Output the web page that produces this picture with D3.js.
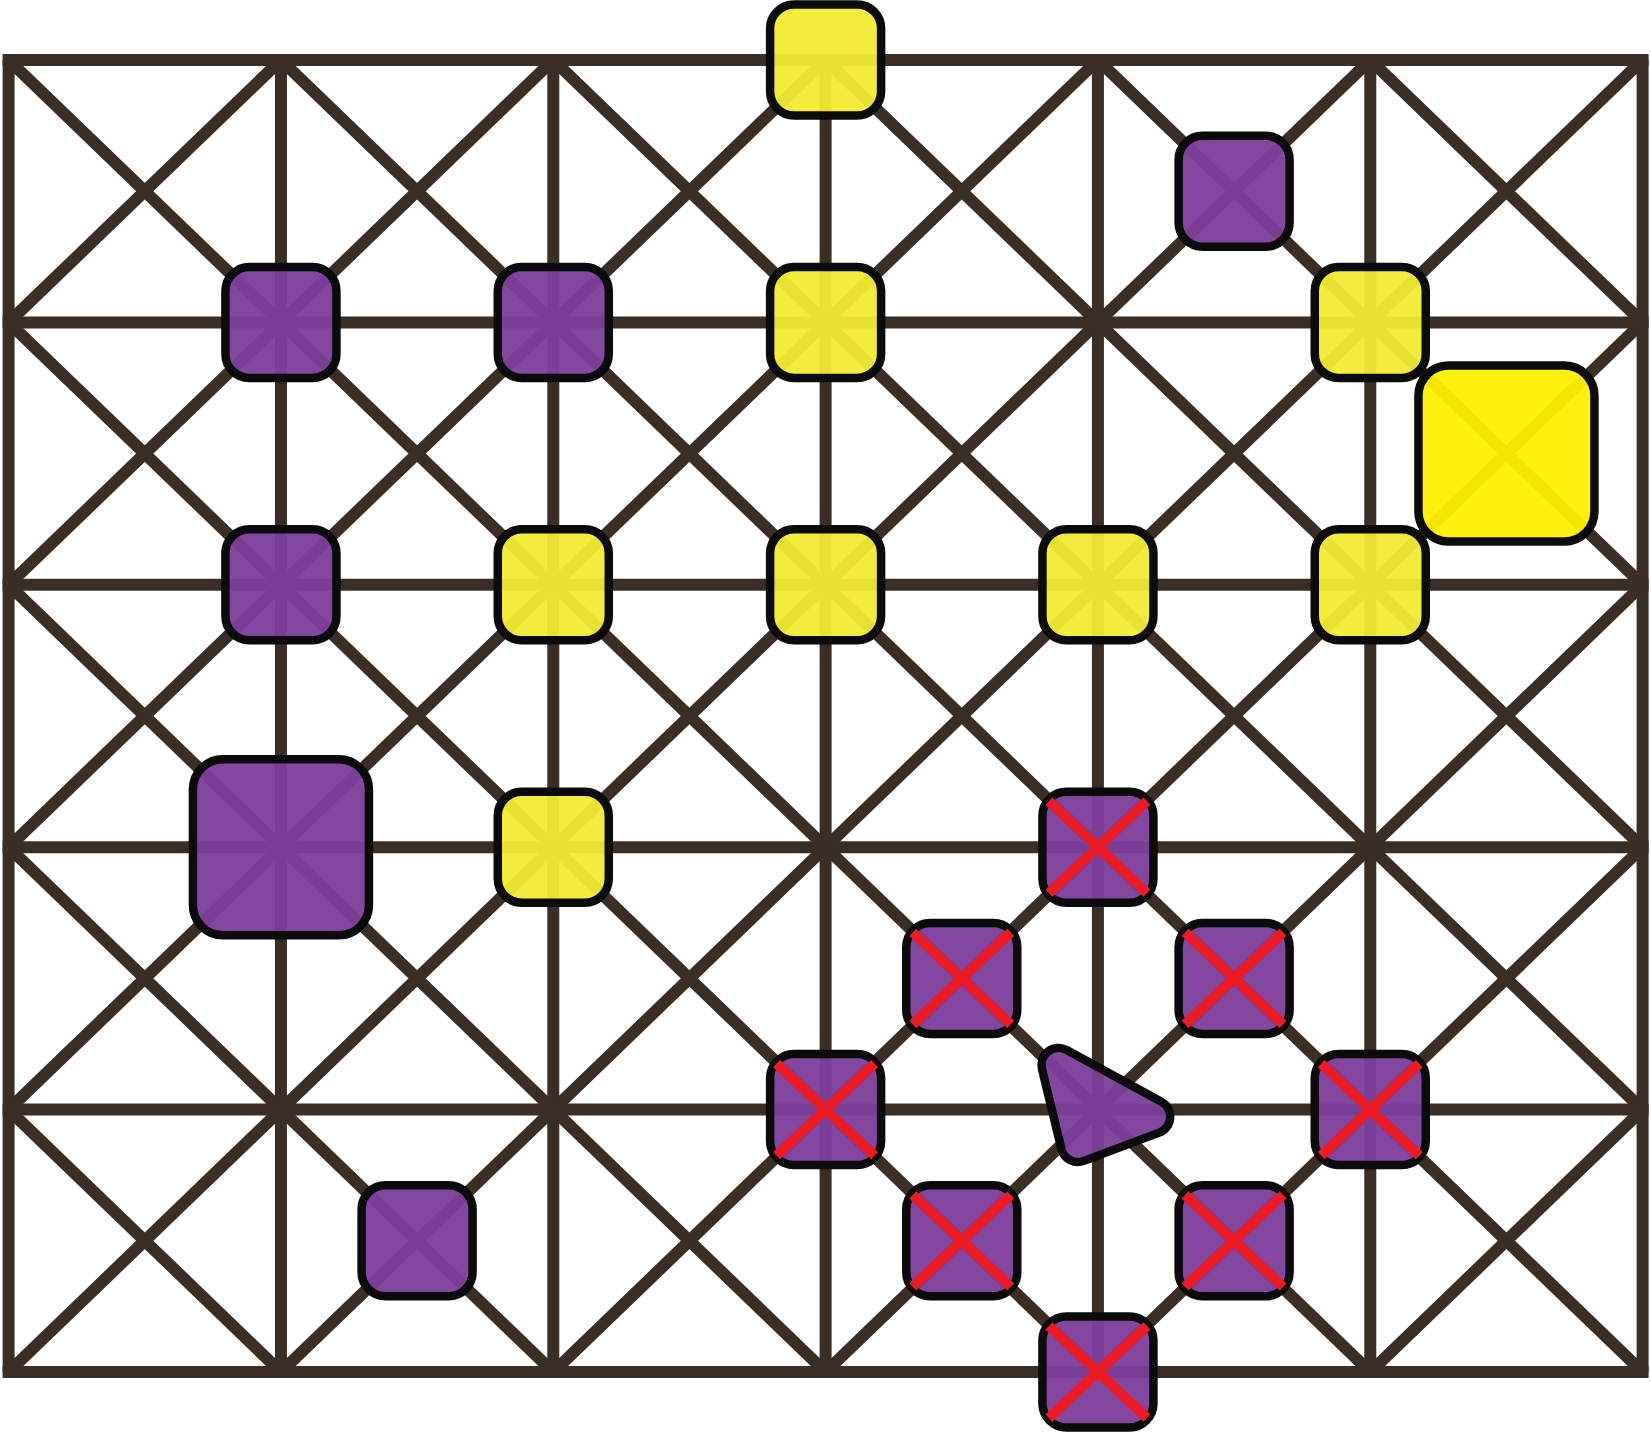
<!DOCTYPE html>
<html>
<head>
<meta charset="utf-8">
<title>Board</title>
<script src="https://cdn.jsdelivr.net/npm/d3@7"></script>
<style>
  body { margin: 0; background: #ffffff; }
  svg { display: block; }
</style>
</head>
<body>
<div id="board"></div>
<script>
// Board grid: column and row ticks (grid points)
var cols = [0, 1, 2, 3, 4, 5, 6];
var rows = [0, 1, 2, 3, 4, 5];

// Pieces as [column, row] positions on the board (halves = cell centres)
var yellowSmall = [[3, 0], [3, 1], [5, 1], [2, 2], [3, 2], [4, 2], [5, 2], [2, 3]];
var yellowLarge = [[5.5, 1.5]];
var purpleSmall = [[4.5, 0.5], [1, 1], [2, 1], [1, 2], [1.5, 4.5]];
var purpleLarge = [[1, 3]];
var purpleCrossed = [[4, 3], [3.5, 3.5], [4.5, 3.5], [3, 4], [5, 4], [3.5, 4.5], [4.5, 4.5], [4, 5]];
var purpleTriangle = [[4, 4]];

var width = 1651, height = 1434;
var lineColor = "#3a2e26";
var lineWidth = 12;

var svg = d3.select("#board").append("svg")
  .attr("width", width)
  .attr("height", height);

// scales from board coordinates to pixels
var x = d3.scaleLinear().domain([0, 6]).range([8.6, 1642.6]);
var y = d3.scaleLinear().domain([0, 5]).range([60, 1372]);

var grid = svg.append("g")
  .attr("stroke", lineColor)
  .attr("stroke-width", lineWidth)
  .attr("fill", "none");

// diagonals: an X in every cell
var cells = [];
cols.slice(0, -1).forEach(function (c) {
  rows.slice(0, -1).forEach(function (r) { cells.push([c, r]); });
});

grid.selectAll("line.d1").data(cells).enter().append("line")
  .attr("x1", function (d) { return x(d[0]); })
  .attr("y1", function (d) { return y(d[1]); })
  .attr("x2", function (d) { return x(d[0] + 1); })
  .attr("y2", function (d) { return y(d[1] + 1); });

grid.selectAll("line.d2").data(cells).enter().append("line")
  .attr("x1", function (d) { return x(d[0] + 1); })
  .attr("y1", function (d) { return y(d[1]); })
  .attr("x2", function (d) { return x(d[0]); })
  .attr("y2", function (d) { return y(d[1] + 1); });

// vertical lines
grid.selectAll("line.v").data(cols).enter().append("line")
  .attr("x1", function (d) { return x(d); })
  .attr("x2", function (d) { return x(d); })
  .attr("y1", y(0))
  .attr("y2", y(5));

// horizontal lines (stretched half a stroke so the frame corners close)
grid.selectAll("line.h").data(rows).enter().append("line")
  .attr("x1", x(0) - lineWidth / 2)
  .attr("x2", x(6) + lineWidth / 2)
  .attr("y1", function (d) { return y(d); })
  .attr("y2", function (d) { return y(d); });

// pieces
var pieces = svg.append("g")
  .attr("stroke", "#0b0b0b")
  .attr("stroke-width", 8.5);

function squares(data, size, radius, fill, opacity) {
  pieces.selectAll(null).data(data).enter().append("rect")
    .attr("x", function (d) { return x(d[0]) - size / 2; })
    .attr("y", function (d) { return y(d[1]) - size / 2; })
    .attr("width", size)
    .attr("height", size)
    .attr("rx", radius)
    .attr("ry", radius)
    .attr("fill", fill)
    .attr("fill-opacity", opacity);
}

squares(yellowSmall, 111, 24, "#f2eb31", 0.95);
squares(yellowLarge, 176, 30, "#fff000", 0.95);
squares(purpleSmall, 111, 24, "#7e409c", 0.96);
squares(purpleLarge, 176, 30, "#7e409c", 0.96);
squares(purpleCrossed, 111, 24, "#7e409c", 0.96);

// rounded triangle piece
function roundedPolygon(pts, r) {
  var n = pts.length, path = "";
  pts.forEach(function (v, i) {
    var p = pts[(i + n - 1) % n], q = pts[(i + 1) % n];
    var a = [p[0] - v[0], p[1] - v[1]], b = [q[0] - v[0], q[1] - v[1]];
    var la = Math.hypot(a[0], a[1]), lb = Math.hypot(b[0], b[1]);
    a = [a[0] / la, a[1] / la]; b = [b[0] / lb, b[1] / lb];
    var ang = Math.acos(a[0] * b[0] + a[1] * b[1]);
    var t = r / Math.tan(ang / 2);
    var t1 = [v[0] + a[0] * t, v[1] + a[1] * t];
    var t2 = [v[0] + b[0] * t, v[1] + b[1] * t];
    path += (i === 0 ? "M" : "L") + t1[0] + "," + t1[1];
    path += "A" + r + "," + r + " 0 0 1 " + t2[0] + "," + t2[1];
  });
  return path + "Z";
}

var triShape = [[-65, -78], [96, 10], [-32, 58]];

pieces.selectAll(null).data(purpleTriangle).enter().append("path")
  .attr("d", function (d) {
    var cx = x(d[0]), cy = y(d[1]);
    return roundedPolygon(triShape.map(function (p) { return [cx + p[0], cy + p[1]]; }), 17);
  })
  .attr("fill", "#7e409c")
  .attr("fill-opacity", 0.96)
  .attr("stroke-linejoin", "round");

// red crosses on captured pieces
var crosses = svg.append("g")
  .attr("stroke", "#ed1c24")
  .attr("stroke-width", 10);

crosses.selectAll(null).data(purpleCrossed).enter().append("line")
  .attr("x1", function (d) { return x(d[0]) - 49; })
  .attr("y1", function (d) { return y(d[1]) - 46; })
  .attr("x2", function (d) { return x(d[0]) + 49; })
  .attr("y2", function (d) { return y(d[1]) + 46; });

crosses.selectAll(null).data(purpleCrossed).enter().append("line")
  .attr("x1", function (d) { return x(d[0]) + 49; })
  .attr("y1", function (d) { return y(d[1]) - 46; })
  .attr("x2", function (d) { return x(d[0]) - 49; })
  .attr("y2", function (d) { return y(d[1]) + 46; });
</script>
</body>
</html>
